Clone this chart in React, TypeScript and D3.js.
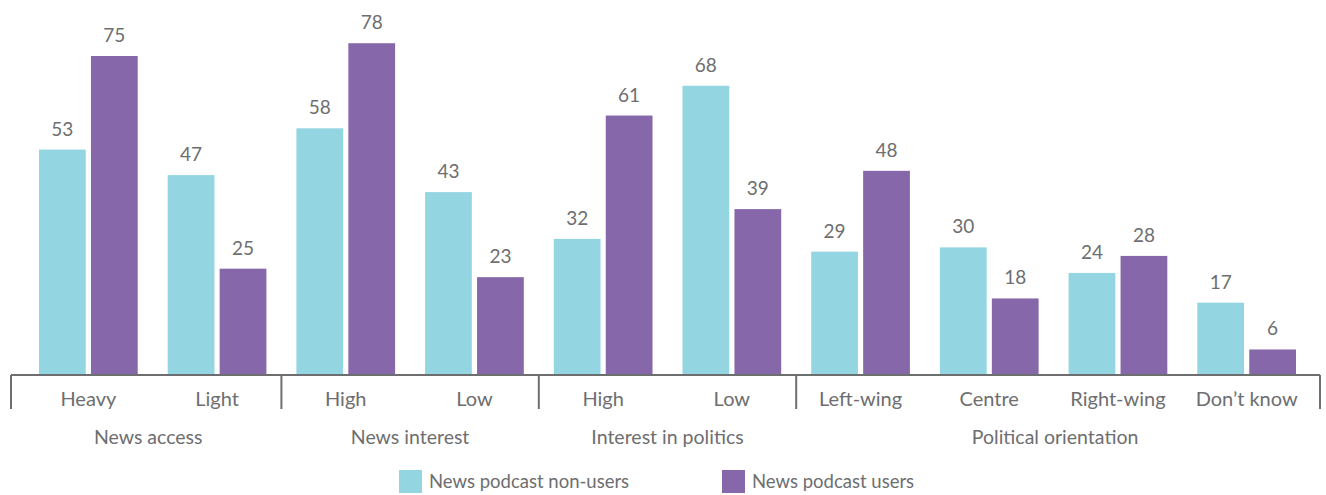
import React from "react";
import * as d3 from "d3";

const categories = ["Heavy", "Light", "High", "Low", "High", "Low", "Left-wing", "Centre", "Right-wing", "Don\u2019t know"];
const groupNames = ["News access", "News interest", "Interest in politics", "Political orientation"];
const groupSizes = [2, 2, 2, 4];
const seriesNames = ["News podcast non-users", "News podcast users"];
const nonUsers = [53, 47, 58, 43, 32, 68, 29, 30, 24, 17];
const users = [75, 25, 78, 23, 61, 39, 48, 18, 28, 6];
const colors = ["#93d6e1", "#8667a9"];

const W = 1326;
const H = 495;
const baseY = 375;
const axisLeft = 11;
const axisRight = 1320;
const textColor = "#6d6e70";
const font = "Lato, 'Open Sans', sans-serif";

export default function App() {
  const ids = categories.map((_, i) => String(i));
  const x = d3.scaleBand<string>().domain(ids).range([24, 1311]).paddingInner(0.233).paddingOuter(0.1165);
  const sub = d3.scaleBand<string>().domain(["0", "1"]).range([0, x.bandwidth()]).paddingInner(0.1);
  const y = d3.scaleLinear().domain([0, 75]).range([baseY, 56]);
  const series = [nonUsers, users];

  const bounds: number[] = [axisLeft];
  let idx = 0;
  groupSizes.forEach((s, gi) => {
    idx += s;
    if (gi < groupSizes.length - 1) {
      const a = x(String(idx - 1))! + x.bandwidth();
      const b = x(String(idx))!;
      bounds.push((a + b) / 2);
    }
  });
  bounds.push(axisRight);

  return (
    <svg width={W} height={H} style={{ position: "absolute", left: 0, top: 0, background: "#fff" }}>
      {series.map((vals, si) =>
        vals.map((v, i) => {
          const bx = x(String(i))! + sub(String(si))!;
          const bw = sub.bandwidth();
          return (
            <g key={`${si}-${i}`}>
              <rect x={bx} y={y(v)} width={bw} height={baseY - y(v)} fill={colors[si]} />
              <text x={bx + bw / 2} y={y(v) - 14} textAnchor="middle" fontFamily={font} fontSize={19} fill={textColor}>
                {v}
              </text>
            </g>
          );
        })
      )}
      <line x1={axisLeft} x2={axisRight} y1={baseY} y2={baseY} stroke={textColor} strokeWidth={2} />
      {bounds.map((bx, i) => (
        <line key={i} x1={bx} x2={bx} y1={baseY} y2={409} stroke={textColor} strokeWidth={2} />
      ))}
      {categories.map((c, i) => (
        <text key={i} x={x(String(i))! + x.bandwidth() / 2} y={405.5} textAnchor="middle" fontFamily={font} fontSize={20} fill={textColor}>
          {c}
        </text>
      ))}
      {groupNames.map((g, gi) => (
        <text key={gi} x={(bounds[gi] + bounds[gi + 1]) / 2 + (gi === 0 ? 2 : gi === 3 ? -3 : 0)} y={444} textAnchor="middle" fontFamily={font} fontSize={19.5} fill={textColor}>
          {g}
        </text>
      ))}
      {seriesNames.map((s, si) => {
        const lx = si === 0 ? 399 : 722;
        return (
          <g key={si}>
            <rect x={lx} y={470} width={23} height={23} fill={colors[si]} />
            <text x={lx + 30} y={488} fontFamily={font} fontSize={18.5} fill={textColor}>
              {s}
            </text>
          </g>
        );
      })}
    </svg>
  );
}
